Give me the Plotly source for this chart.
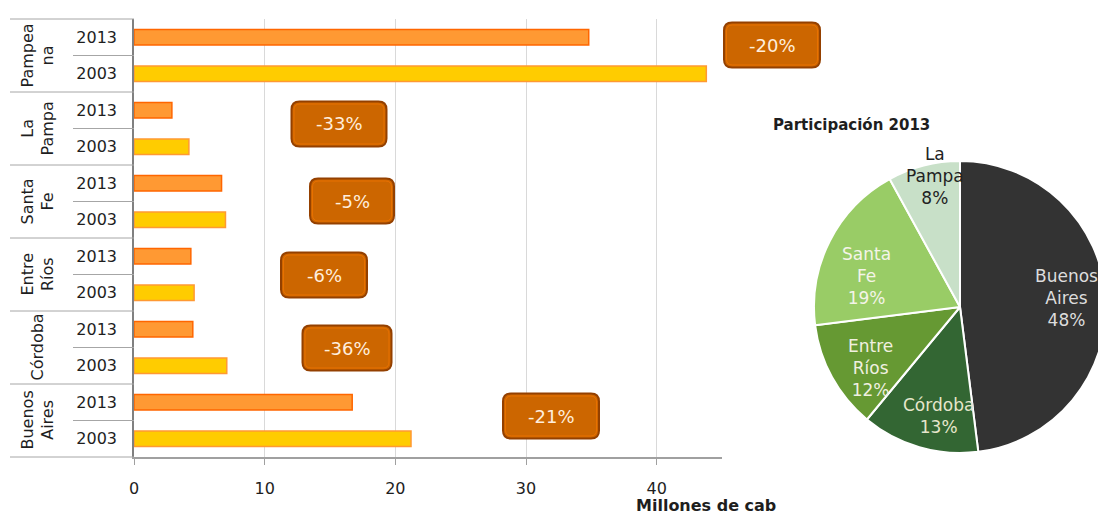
import plotly.graph_objects as go

# ---------------- data ----------------
regions = ["Pampeana", "La Pampa", "Santa Fe", "Entre Ríos", "Córdoba", "Buenos Aires"]
region_labels = ["Pampea<br>na", "La<br>Pampa", "Santa<br>Fe", "Entre<br>Ríos", "Córdoba", "Buenos<br>Aires"]
years = ["2013", "2003"]
values_2013 = [34.8, 2.9, 6.7, 4.35, 4.5, 16.7]
values_2003 = [43.8, 4.2, 7.0, 4.6, 7.1, 21.2]
changes = ["-20%", "-33%", "-5%", "-6%", "-36%", "-21%"]
x_ticks = [0, 10, 20, 30, 40]

pie_labels = ["Buenos<br>Aires", "Córdoba", "Entre<br>Ríos", "Santa<br>Fe", "La<br>Pampa"]
pie_shares = [48, 13, 12, 19, 8]

# ---------------- styles / layout ----------------
OFF = 8                      # default page margin of the html body
W, H = 1106 - OFF, 518 - OFF
ML, MR, MT, MB = 134 - OFF, 0, 19 - OFF, 61
PW, PH = W - ML - MR, H - MT - MB
FONT = "DejaVu Sans"
TXT = "#1E1E1E"

def px_x(px):
    return (px - 134) / PW

def px_y(py):
    return (457 - py) / PH

pie_colors = ["#333333", "#336633", "#669933", "#99CC66", "#C8E0C8"]
pie_text_colors = ["#DDDDDD", "#E6E6CC", "#F0F0E0", "#F4F4E8", "#222222"]
pie_label_px = [(1066, 298), (938, 416), (870, 368), (866, 276), (935, 176)]

# centre (px) and width of the change boxes, one per region
box_px = [(772, 45, 96), (339, 124, 95), (352, 201, 84),
          (324, 275, 86), (347, 348, 89), (551, 416, 96)]
BOX_H = 45


def rounded_rect(w, h, rr):
    w2, h2 = w / 2, h / 2
    return (f"M {-w2+rr},{-h2} L {w2-rr},{-h2} Q {w2},{-h2} {w2},{-h2+rr} "
            f"L {w2},{h2-rr} Q {w2},{h2} {w2-rr},{h2} L {-w2+rr},{h2} "
            f"Q {-w2},{h2} {-w2},{h2-rr} L {-w2},{-h2+rr} Q {-w2},{-h2} {-w2+rr},{-h2} Z")


cats = []
for r in regions:
    for yv in years:
        cats.append(f"{r}|{yv}")

fig = go.Figure()
fig.add_trace(go.Bar(
    y=[f"{r}|2013" for r in regions], x=values_2013, orientation="h",
    width=0.42, marker=dict(color="#FF9933", line=dict(color="#FF6600", width=1.5)),
    name="2013", showlegend=False, hoverinfo="x"))
fig.add_trace(go.Bar(
    y=[f"{r}|2003" for r in regions], x=values_2003, orientation="h",
    width=0.42, marker=dict(color="#FFCC00", line=dict(color="#FF9933", width=1.5)),
    name="2003", showlegend=False, hoverinfo="x"))

fig.add_trace(go.Pie(
    labels=pie_labels, values=pie_shares,
    textinfo="none",
    marker=dict(colors=pie_colors, line=dict(color="white", width=2)),
    sort=False, direction="clockwise", rotation=0,
    domain=dict(x=[px_x(814), 1.0], y=[px_y(453), px_y(161)]),
    showlegend=False, hoverinfo="label+percent"))

shapes = []
# table dividers in the left label area
n = len(cats)
for k in range(n + 1):
    x0 = px_x(10) if k % 2 == 0 else px_x(73)
    shapes.append(dict(type="line", xref="paper", yref="paper",
                       x0=x0, x1=0, y0=k / n, y1=k / n,
                       line=dict(color="#A6A6A6", width=1)))

annotations = []
for i, lab in enumerate(region_labels):
    annotations.append(dict(
        xref="paper", yref="paper", x=px_x(37), y=1 - (2 * i + 1) / n,
        xanchor="center", yanchor="middle",
        text=lab, textangle=-90, showarrow=False,
        font=dict(family=FONT, size=16, color=TXT)))

for (cx, cy, bw), txt in zip(box_px, changes):
    shapes.append(dict(type="path", xref="paper", yref="paper",
                       xsizemode="pixel", ysizemode="pixel",
                       xanchor=px_x(cx), yanchor=px_y(cy),
                       path=rounded_rect(bw, BOX_H, 8),
                       fillcolor="#CC6600", line=dict(color="#944000", width=2)))
    shapes.append(dict(type="path", xref="paper", yref="paper",
                       xsizemode="pixel", ysizemode="pixel",
                       xanchor=px_x(cx), yanchor=px_y(cy),
                       path=rounded_rect(bw - 5, BOX_H - 5, 6),
                       fillcolor="rgba(0,0,0,0)",
                       line=dict(color="rgba(255,120,0,0.55)", width=1)))
    annotations.append(dict(
        xref="paper", yref="paper", x=px_x(cx), y=px_y(cy), text=txt,
        xanchor="center", yanchor="middle",
        showarrow=False, font=dict(family=FONT, size=18, color="#FFEEDD")))

# pie slice labels
for (lx, ly), lab, share, col in zip(pie_label_px, pie_labels, pie_shares, pie_text_colors):
    annotations.append(dict(
        xref="paper", yref="paper", x=px_x(lx), y=px_y(ly),
        xanchor="center", yanchor="middle",
        text=f"{lab}<br>{share}%", showarrow=False,
        font=dict(family=FONT, size=17, color=col)))

annotations.append(dict(
    xref="paper", yref="paper", x=px_x(771), y=px_y(125),
    xanchor="left", yanchor="middle",
    text="<b>Participación 2013</b>", showarrow=False,
    font=dict(family=FONT, size=15, color=TXT)))
annotations.append(dict(
    xref="paper", yref="paper", x=px_x(706), y=px_y(517),
    xanchor="center", yanchor="bottom",
    text="<b>Millones de cab</b>", showarrow=False,
    font=dict(family=FONT, size=16, color=TXT)))

fig.update_layout(
    width=W, height=H,
    margin=dict(l=ML, r=MR, t=MT, b=MB, pad=0),
    paper_bgcolor="white", plot_bgcolor="white",
    barmode="overlay",
    font=dict(family=FONT, size=16, color=TXT),
    xaxis=dict(domain=[0, px_x(722)], range=[0, 45], tickvals=x_ticks,
               showgrid=True, gridcolor="#D9D9D9", gridwidth=1,
               showline=True, linecolor="#A0A0A0", linewidth=1.5,
               ticks="outside", ticklen=6, tickcolor="#A0A0A0",
               ticklabelstandoff=10,
               zeroline=False, tickfont=dict(size=16)),
    yaxis=dict(type="category", categoryorder="array", categoryarray=cats,
               autorange="reversed", tickvals=cats,
               ticktext=[c.split("|")[1] for c in cats],
               showgrid=False, showline=True, linecolor="#808080", linewidth=1.5,
               ticks="", ticklabelstandoff=12, tickfont=dict(size=16)),
    shapes=shapes, annotations=annotations,
)

fig.write_html("out.html")
